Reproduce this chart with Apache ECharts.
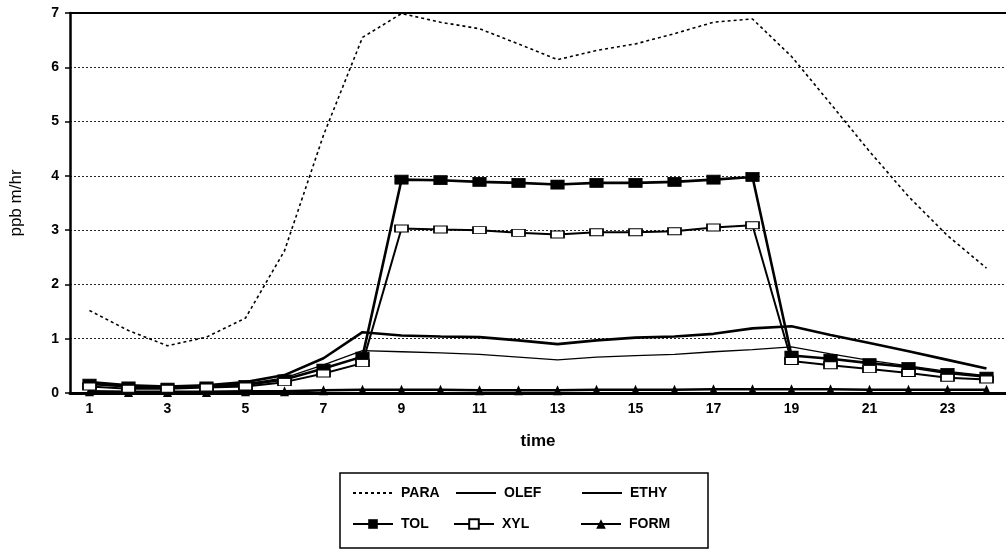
<!DOCTYPE html>
<html>
<head>
<meta charset="utf-8">
<script src="https://cdn.jsdelivr.net/npm/echarts@6/dist/echarts.min.js"></script>
<style>
  html, body { margin: 0; padding: 0; background: #fff; }
  #chart { width: 1006px; height: 553px; }
</style>
</head>
<body>
<div id="chart"></div>
<script>
// Hour of day
const hours = ['1','2','3','4','5','6','7','8','9','10','11','12','13','14','15','16','17','18','19','20','21','22','23','24'];
const yTicks = [0, 1, 2, 3, 4, 5, 6, 7];

// Emission rates, ppb m/hr
const para = [1.52, 1.15, 0.87, 1.03, 1.38, 2.62, 4.75, 6.55, 6.99, 6.83, 6.71, 6.43, 6.14, 6.31, 6.43, 6.62, 6.83, 6.89, 6.2, 5.33, 4.45, 3.62, 2.9, 2.3];
const olef = [0.16, 0.12, 0.1, 0.12, 0.17, 0.28, 0.52, 0.78, 0.76, 0.74, 0.71, 0.66, 0.61, 0.66, 0.69, 0.71, 0.76, 0.8, 0.85, 0.72, 0.6, 0.5, 0.4, 0.32];
const ethy = [0.2, 0.14, 0.12, 0.14, 0.2, 0.33, 0.64, 1.12, 1.06, 1.04, 1.03, 0.97, 0.9, 0.97, 1.02, 1.04, 1.09, 1.19, 1.23, 1.07, 0.92, 0.77, 0.61, 0.45];
const tol  = [0.17, 0.12, 0.1, 0.12, 0.15, 0.25, 0.45, 0.67, 3.93, 3.92, 3.89, 3.87, 3.84, 3.87, 3.87, 3.89, 3.93, 3.98, 0.69, 0.63, 0.55, 0.48, 0.37, 0.3];
const xyl  = [0.12, 0.08, 0.08, 0.1, 0.12, 0.2, 0.36, 0.55, 3.03, 3.01, 3.0, 2.95, 2.92, 2.96, 2.96, 2.98, 3.05, 3.09, 0.59, 0.51, 0.44, 0.37, 0.28, 0.25];
const form = [0.03, 0.02, 0.02, 0.02, 0.03, 0.03, 0.05, 0.06, 0.06, 0.06, 0.05, 0.05, 0.05, 0.06, 0.06, 0.06, 0.07, 0.07, 0.07, 0.07, 0.06, 0.06, 0.06, 0.06];

const FONT = '"Liberation Sans", Arial, Helvetica, sans-serif';
const INK = '#000';

const chart = echarts.init(document.getElementById('chart'), null, { renderer: 'canvas' });

// One legend entry per box cell so the three columns line up
function legendAt(name, left, top, lineOnly) {
  const lg = {
    data: [name],
    left: left, top: top,
    orient: 'horizontal',
    itemWidth: 40, itemHeight: 12, itemGap: 0,
    selectedMode: false,
    padding: 0,
    textStyle: { fontFamily: FONT, fontSize: 14, fontWeight: 'bold', color: INK, padding: [0, 0, 0, 3] }
  };
  if (lineOnly) lg.itemStyle = { opacity: 0 };
  return lg;
}

const option = {
  backgroundColor: '#fff',
  animation: false,
  grid: { left: 66, top: 13, width: 946, height: 380, containLabel: false },
  xAxis: [{
    type: 'category',
    data: hours,
    boundaryGap: true,
    name: 'time',
    nameLocation: 'middle',
    nameGap: 40,
    nameTextStyle: { fontFamily: FONT, fontSize: 17, fontWeight: 'bold', color: INK },
    axisLine: { show: true, lineStyle: { color: INK, width: 3 } },
    axisTick: { show: false },
    axisLabel: { interval: 1, margin: 9, fontFamily: FONT, fontSize: 14, fontWeight: 'bold', color: INK },
    splitLine: { show: false }
  }, {
    type: 'category',
    data: hours,
    position: 'top',
    axisLine: { show: true, lineStyle: { color: INK, width: 2 } },
    axisTick: { show: false },
    axisLabel: { show: false },
    splitLine: { show: false }
  }],
  yAxis: {
    type: 'value',
    min: yTicks[0],
    max: yTicks[yTicks.length - 1],
    interval: 1,
    name: 'ppb m/hr',
    nameLocation: 'middle',
    nameGap: 45,
    nameTextStyle: { fontFamily: FONT, fontSize: 17, color: INK },
    axisLine: { show: true, lineStyle: { color: INK, width: 2.5 } },
    axisTick: { show: true, length: 5, lineStyle: { color: INK, width: 1.5 } },
    axisLabel: { margin: 11, fontFamily: FONT, fontSize: 14, fontWeight: 'bold', color: INK },
    splitLine: { show: true, lineStyle: { color: '#222', width: 1, type: [2, 2] } }
  },
  legend: [
    legendAt('PARA', 352, 486, true),
    legendAt('OLEF', 455, 486, true),
    legendAt('ETHY', 581, 486, true),
    legendAt('TOL', 352, 517, false),
    legendAt('XYL', 453, 517, false),
    legendAt('FORM', 580, 517, false)
  ],
  graphic: [{
    type: 'rect',
    shape: { x: 340, y: 473, width: 368, height: 75 },
    style: { fill: 'none', stroke: INK, lineWidth: 1.5 },
    silent: true
  }],
  series: [
    {
      name: 'PARA', type: 'line', data: para, z: 2,
      symbol: 'none', showSymbol: false,
      lineStyle: { color: INK, width: 1.6, type: [3, 3] },
      itemStyle: { color: INK }
    },
    {
      name: 'OLEF', type: 'line', data: olef, z: 3,
      symbol: 'none', showSymbol: false,
      lineStyle: { color: INK, width: 1.3 },
      itemStyle: { color: INK }
    },
    {
      name: 'ETHY', type: 'line', data: ethy, z: 3,
      symbol: 'none', showSymbol: false,
      lineStyle: { color: INK, width: 2.6 },
      itemStyle: { color: INK }
    },
    {
      name: 'TOL', type: 'line', data: tol, z: 4,
      symbol: 'rect', symbolSize: [13, 9],
      lineStyle: { color: INK, width: 2.6 },
      itemStyle: { color: INK, borderColor: INK }
    },
    {
      name: 'XYL', type: 'line', data: xyl, z: 5,
      symbol: 'rect', symbolSize: [13, 7],
      lineStyle: { color: INK, width: 2 },
      itemStyle: { color: '#fff', borderColor: INK, borderWidth: 1.3 }
    },
    {
      name: 'FORM', type: 'line', data: form, z: 4,
      symbol: 'triangle', symbolSize: [9, 10],
      lineStyle: { color: INK, width: 2.6 },
      itemStyle: { color: INK }
    }
  ]
};

chart.setOption(option);
</script>
</body>
</html>
